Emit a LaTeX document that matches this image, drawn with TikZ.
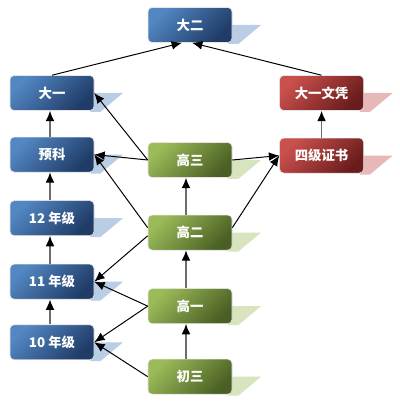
\documentclass[tikz,border=0pt]{standalone}
\usepackage{fontspec}
\setmainfont{Noto Sans CJK SC}
\usetikzlibrary{positioning,calc,backgrounds,arrows.meta}

\definecolor{blueA}{HTML}{5387C3}
\definecolor{blueB}{HTML}{1F3B66}
\definecolor{greenA}{HTML}{9BBB59}
\definecolor{greenB}{HTML}{4A5F24}
\definecolor{redA}{HTML}{C9504D}
\definecolor{redB}{HTML}{6A1C1C}
\definecolor{blueS}{HTML}{B9CDE5}
\definecolor{greenS}{HTML}{D7E4BD}
\definecolor{redS}{HTML}{E6B9B8}

\begin{document}
\begin{tikzpicture}[>={Latex[length=2.6mm,width=2.2mm]},
    box/.style={rounded corners=3pt, minimum width=2.1cm, minimum height=0.875cm, inner sep=0pt,
        align=center, text=white, font=\bfseries\fontsize{9.5}{11}\selectfont, draw=white!80!gray, line width=0.4pt},
    bluebox/.style={box, top color=blueA, bottom color=blueB, shading angle=45},
    greenbox/.style={box, top color=greenA, bottom color=greenB, shading angle=45},
    redbox/.style={box, top color=redA, bottom color=redB, shading angle=45},
    up/.style={draw=gray!85!black, line width=0.8pt, -{Latex[black,length=2.6mm,width=2.2mm]}},
    link/.style={black, line width=0.7pt, ->}]
    \useasboundingbox (0,0) rectangle (10,-10.05);

    % left column
    \node[bluebox] at (1.3,-2.325) (dayi) {大一};
    \node[bluebox, below=0.65 of dayi] (yuke) {预科};
    \node[bluebox, below=0.7 of yuke] (g12) {12 年级};
    \node[bluebox, below=0.7 of g12] (g11) {11 年级};
    \node[bluebox, below=0.625 of g11] (g10) {10 年级};

    % middle column
    \node[bluebox] at (4.75,-0.625) (daer) {大二};
    \node[greenbox] at (4.75,-4.0) (gaosan) {高三};
    \node[greenbox, below=0.925 of gaosan] (gaoer) {高二};
    \node[greenbox, below=0.95 of gaoer] (gaoyi) {高一};
    \node[greenbox, below=0.875 of gaoyi] (chusan) {初三};

    % right column
    \node[redbox, right=4.625 of dayi] (wenping) {大一文凭};
    \node[redbox, below=0.675 of wenping] (siji) {四级证书};

    \begin{scope}[on background layer]
        \foreach \n/\c in {daer/blueS, dayi/blueS, yuke/blueS, g12/blueS, g11/blueS, g10/blueS,
                gaosan/greenS, gaoer/greenS, gaoyi/greenS, chusan/greenS, wenping/redS, siji/redS}
            \fill[\c] ($(\n.east)+(-0.1,0)$) -- ++(0.82,0) -- ($(\n.south east)+(0.15,-0.03)$)
                -- ($(\n.south east)+(-0.1,-0.03)$) -- cycle;
    \end{scope}

    \draw[link] (dayi.north) -- ([xshift=-2mm]daer.south);
    \draw[link] (wenping.north) -- ([xshift=0.5mm]daer.south);
    \draw[up] ([xshift=-0.5mm]yuke.north) -- ([xshift=-0.5mm]dayi.south);
    \draw[up] ([xshift=-0.5mm]g12.north) -- ([xshift=-0.5mm]yuke.south);
    \draw[up] ([xshift=-0.5mm]g11.north) -- ([xshift=-0.5mm]g12.south);
    \draw[up] ([xshift=-0.5mm]g10.north) -- ([xshift=-0.5mm]g11.south);
    \draw[up] (siji) -- (wenping);
    \draw[up] ([xshift=-1mm]gaoer.north) -- ([xshift=-1mm]gaosan.south);
    \draw[up] ([xshift=-1mm]gaoyi.north) -- ([xshift=-1mm]gaoer.south);
    \draw[up] ([xshift=-1mm]chusan.north) -- ([xshift=-1mm]gaoyi.south);
    \draw[link] (gaosan.west) -- (dayi.east);
    \draw[link] (gaosan.west) -- (yuke.east);
    \draw[link] (gaosan.east) -- (siji.west);
    \draw[link] ([yshift=1.2mm]gaoer.west) -- (yuke.east);
    \draw[link] ([yshift=-0.8mm]gaoer.west) -- (g11.east);
    \draw[link] ([yshift=1.2mm]gaoer.east) -- (siji.west);
    \draw[link] (gaoyi.west) -- (g11.east);
    \draw[link] (gaoyi.west) -- (g10.east);
    \draw[link] (chusan.west) -- (g10.east);
\end{tikzpicture}
\end{document}
